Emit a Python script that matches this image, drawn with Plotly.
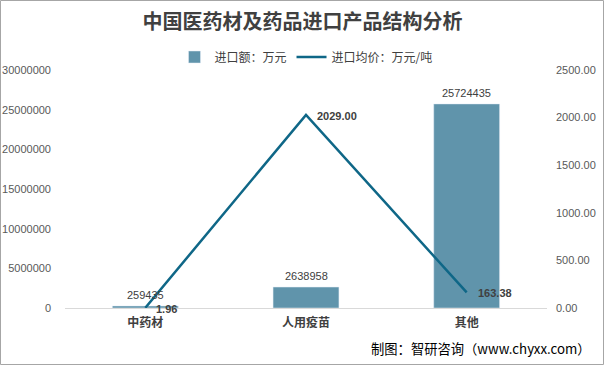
import plotly.graph_objects as go

categories = ["中药材", "人用疫苗", "其他"]
import_value = [259435, 2638958, 25724435]       # 进口额：万元
avg_price = [1.96, 2029.00, 163.38]               # 进口均价：万元/吨

W, H = 605, 366
ml, mr, mt, mb = 65, 58, 70, 58
pw, ph = W - ml - mr, H - mt - mb

font_main = "Liberation Sans, Noto Sans CJK SC, sans-serif"
font_cjk = "Noto Sans CJK SC, sans-serif"

fig = go.Figure()
fig.add_trace(go.Bar(
    x=categories, y=import_value, name="进口额：万元",
    marker=dict(color="#6094ab"), width=0.41,
))
fig.add_trace(go.Scatter(
    x=categories, y=avg_price, name="进口均价：万元/吨", yaxis="y2",
    mode="lines", line=dict(color="#0f6787", width=2.5),
    cliponaxis=False,
))

# data labels
for c, v in zip(categories, import_value):
    fig.add_annotation(x=c, y=v, xref="x", yref="y", text=str(v), showarrow=False,
                       xanchor="center", yanchor="bottom", yshift=3,
                       font=dict(size=11, color="#404040", family=font_main))
for c, v in zip(categories, avg_price):
    fig.add_annotation(x=c, y=v, xref="x", yref="y2", text=f"<b>{v:.2f}</b>", showarrow=False,
                       xanchor="left", yanchor="middle", xshift=9, yshift=-1,
                       font=dict(size=11, color="#404040", family=font_main))

fig.update_layout(
    width=W, height=H,
    margin=dict(l=ml, r=mr, t=mt, b=mb, autoexpand=False),
    paper_bgcolor="white", plot_bgcolor="white",
    font=dict(family=font_main, color="#595959"),
    title=dict(text="<b>中国医药材及药品进口产品结构分析</b>", x=0.5, xanchor="center",
               y=1 - 22 / H, yanchor="middle",
               font=dict(size=20, color="#404040", family=font_cjk)),
    showlegend=True,
    legend=dict(orientation="h", x=0.5, xanchor="center", y=1 + 13 / ph, yanchor="middle",
                font=dict(size=12, color="#404040", family=font_cjk),
                itemwidth=30, bgcolor="rgba(0,0,0,0)"),
    xaxis=dict(showgrid=False, showline=True, linecolor="#d9d9d9", linewidth=1,
               ticks="", ticklabelstandoff=4,
               tickfont=dict(size=12, color="#404040", family=font_cjk, weight="bold"),
               zeroline=False),
    yaxis=dict(range=[0, 30000000], dtick=5000000, tickformat="d", showgrid=False,
               zeroline=False, showline=False, ticks="", ticklabelstandoff=13,
               tickfont=dict(size=11, color="#595959")),
    yaxis2=dict(range=[0, 2500], dtick=500, tickformat=".2f", overlaying="y", side="right",
                showgrid=False, zeroline=False, showline=False, ticks="", ticklabelstandoff=8,
                tickfont=dict(size=11, color="#595959")),
    bargap=0.59,
)

# outer border
fig.add_shape(type="rect", xref="paper", yref="paper",
              x0=-(ml - 0.5) / pw, x1=1 + (mr - 1.5) / pw,
              y0=-(mb - 1.5) / ph, y1=1 + (mt - 0.5) / ph,
              line=dict(color="#a6a6a6", width=1), layer="below")

fig.add_annotation(text="制图：智研咨询（www.chyxx.com）", xref="paper", yref="paper",
                   x=1 + 46 / pw, xanchor="right", y=-(348 - mt - ph) / ph, yanchor="middle",
                   showarrow=False, font=dict(size=13.3, color="#000000", family=font_cjk))

fig.write_html("out.html", config={"displayModeBar": False},
               post_script="document.body.style.margin='0';")
